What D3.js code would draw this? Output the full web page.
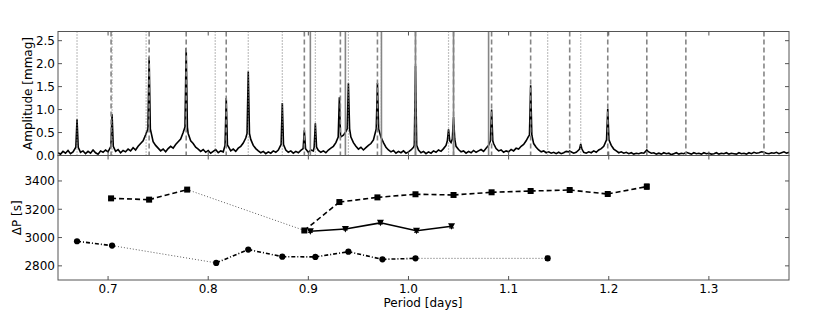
<!DOCTYPE html>
<html>
<head>
<meta charset="utf-8">
<script src="https://cdn.jsdelivr.net/npm/d3@7"></script>
<style>
  body { margin: 0; background: #fff; }
  text { font-family: "DejaVu Sans", sans-serif; font-size: 12px; fill: #000; }
</style>
</head>
<body>
<div class="canvas"></div>
<script>
// ---- data ----
// spectrum: noise floor sampled every 0.0025 d starting at 0.650 d (one row = 0.05 d)
const noiseStart = 0.650, noiseStep = 0.0025;
const noiseAmp = [
  0.06, 0.03, 0.09, 0.05, 0.11, 0.04, 0.08, 0.14, 0.16, 0.07, 0.10, 0.04, 0.09, 0.05, 0.12, 0.06, 0.03, 0.10, 0.07, 0.12,
  0.08, 0.15, 0.18, 0.09, 0.13, 0.06, 0.11, 0.08, 0.14, 0.10, 0.17, 0.12, 0.20, 0.26, 0.32, 0.45, 0.55, 0.48, 0.30, 0.22,
  0.16, 0.10, 0.14, 0.08, 0.15, 0.20, 0.16, 0.24, 0.30, 0.36, 0.50, 0.60, 0.48, 0.32, 0.26, 0.18, 0.14, 0.09, 0.13, 0.07,
  0.11, 0.05, 0.09, 0.13, 0.06, 0.10, 0.08, 0.18, 0.20, 0.10, 0.14, 0.09, 0.16, 0.20, 0.27, 0.38, 0.45, 0.35, 0.22, 0.15,
  0.10, 0.06, 0.09, 0.04, 0.08, 0.05, 0.10, 0.07, 0.12, 0.18, 0.22, 0.12, 0.07, 0.10, 0.05, 0.09, 0.06, 0.11, 0.14, 0.10,
  0.07, 0.12, 0.10, 0.16, 0.11, 0.07, 0.10, 0.06, 0.12, 0.16, 0.20, 0.28, 0.36, 0.40, 0.44, 0.52, 0.56, 0.40, 0.28, 0.20,
  0.14, 0.18, 0.12, 0.17, 0.22, 0.26, 0.34, 0.46, 0.55, 0.40, 0.28, 0.18, 0.12, 0.08, 0.11, 0.05, 0.09, 0.06, 0.10, 0.05,
  0.08, 0.12, 0.18, 0.20, 0.12, 0.06, 0.09, 0.04, 0.08, 0.05, 0.10, 0.07, 0.12, 0.09, 0.15, 0.22, 0.30, 0.28, 0.34, 0.20,
  0.13, 0.08, 0.10, 0.05, 0.09, 0.06, 0.11, 0.07, 0.10, 0.13, 0.09, 0.16, 0.22, 0.30, 0.26, 0.15, 0.10, 0.12, 0.07, 0.10,
  0.08, 0.13, 0.10, 0.16, 0.14, 0.20, 0.24, 0.32, 0.42, 0.38, 0.26, 0.18, 0.12, 0.08, 0.10, 0.06, 0.08, 0.05, 0.07, 0.04,
  0.07, 0.04, 0.06, 0.09, 0.07, 0.10, 0.05, 0.07, 0.12, 0.14, 0.07, 0.05, 0.08, 0.06, 0.10, 0.07, 0.12, 0.15, 0.20, 0.30,
  0.32, 0.22, 0.14, 0.10, 0.06, 0.08, 0.05, 0.07, 0.04, 0.06, 0.03, 0.05, 0.04, 0.06, 0.05, 0.09, 0.08, 0.05, 0.06, 0.03,
  0.05, 0.03, 0.06, 0.04, 0.05, 0.02, 0.04, 0.06, 0.03, 0.05, 0.04, 0.07, 0.05, 0.03, 0.06, 0.04, 0.05, 0.03, 0.06, 0.04,
  0.05, 0.03, 0.04, 0.06, 0.03, 0.05, 0.04, 0.06, 0.03, 0.05, 0.04, 0.03, 0.06, 0.04, 0.05, 0.03, 0.06, 0.04, 0.07, 0.05,
  0.06, 0.08, 0.07, 0.05, 0.04, 0.06, 0.05, 0.07, 0.04, 0.06, 0.08, 0.05, 0.07
];
// spectrum peaks
const peakPeriod   = [0.669, 0.704, 0.741, 0.778, 0.818, 0.840, 0.874, 0.896, 0.907, 0.931, 0.940,
                      0.969, 1.007, 1.040, 1.045, 1.083, 1.122, 1.161, 1.172, 1.199, 1.238];
const peakAmp      = [0.79, 0.90, 2.14, 2.34, 1.25, 1.83, 1.14, 0.55, 0.70, 1.27, 1.57,
                      1.58, 1.95, 0.57, 0.84, 1.00, 1.53, 0.10, 0.25, 1.02, 0.12];
const peakShoulder = [0.18, 0.20, 0.58, 0.62, 0.22, 0.48, 0.24, 0.15, 0.18, 0.40, 0.58,
                      0.58, 0.22, 0.32, 0.36, 0.32, 0.44, 0.08, 0.14, 0.34, 0.09];

// vertical period markers in the top panel
const dashedMarks = [0.703, 0.741, 0.778, 0.818, 0.896, 0.932, 0.969, 1.007, 1.045, 1.083,
                     1.122, 1.161, 1.199, 1.238, 1.277, 1.355];
const solidMarks  = [0.902, 0.937, 0.973, 1.007, 1.045, 1.080];
const dottedMarks = [0.669, 0.704, 0.738, 0.807, 0.840, 0.874, 0.907, 0.940, 0.973, 1.007,
                     1.040, 1.139, 1.172];

// period spacings (bottom panel)
const seqAPeriod = [0.703, 0.741, 0.779, 0.896, 0.931, 0.969, 1.007, 1.045, 1.083, 1.122, 1.161, 1.199, 1.238];
const seqAValue  = [3277, 3268, 3339, 3050, 3251, 3284, 3306, 3301, 3320, 3329, 3336, 3308, 3360];
const seqAErr    = [8, 8, 8, 6, 8, 8, 8, 8, 8, 8, 8, 10, 18];
const seqAGaps   = [2];            // segment after this index is a gap (dotted)

const seqBPeriod = [0.902, 0.937, 0.972, 1.008, 1.043];
const seqBValue  = [3045, 3060, 3104, 3048, 3080];
const seqBErr    = [8, 6, 8, 10, 12];
const seqBGaps   = [];

const seqCPeriod = [0.669, 0.704, 0.808, 0.840, 0.874, 0.907, 0.940, 0.974, 1.007, 1.139];
const seqCValue  = [2974, 2943, 2821, 2915, 2865, 2863, 2900, 2846, 2853, 2853];
const seqCErr    = [6, 6, 6, 6, 6, 6, 6, 6, 6, 15];
const seqCGaps   = [1, 8];

const xTicks = [0.7, 0.8, 0.9, 1.0, 1.1, 1.2, 1.3];
const ampTicks = [0.0, 0.5, 1.0, 1.5, 2.0, 2.5];
const dpTicks = [2800, 3000, 3200, 3400];

// ---- layout ----
const W = 830, H = 316;
const left = 58, right = 789;
const top1 = 31.5, bot1 = 155.5, bot2 = 280;
const tickLen = 4;
const frameColor = '#555';
const markColor = '#858585';

const svg = d3.select('.canvas').append('svg')
  .attr('width', W).attr('height', H)
  .style('background', '#fff');

const x = d3.scaleLinear().domain([0.65, 1.38]).range([left, right]);
const yAmp = d3.scaleLinear().domain([0, 2.7]).range([bot1, top1]);
const yDP = d3.scaleLinear().domain([2700, 3580]).range([bot2, bot1]);

svg.append('defs').append('clipPath').attr('id', 'clipTop')
  .append('rect').attr('x', left).attr('y', top1).attr('width', right - left).attr('height', bot1 - top1);

// ---- top panel ----
const topG = svg.append('g').attr('clip-path', 'url(#clipTop)');

// spectrum line: noise samples merged with the peaks
let pts = [];
noiseAmp.forEach((a, i) => {
  const p = noiseStart + i * noiseStep;
  if (!peakPeriod.some(pp => Math.abs(pp - p) < 0.0016)) pts.push([p, a]);
});
peakPeriod.forEach((p, i) => {
  pts.push([p - 0.0012, peakShoulder[i]]);
  pts.push([p, peakAmp[i]]);
  pts.push([p + 0.0012, peakShoulder[i]]);
});
pts.sort((a, b) => a[0] - b[0]);

topG.append('path')
  .datum(pts)
  .attr('fill', 'none')
  .attr('stroke', '#000')
  .attr('stroke-width', 1.6)
  .attr('stroke-linejoin', 'miter')
  .attr('d', d3.line().x(d => x(d[0])).y(d => yAmp(d[1])));

const drawMarks = (list, dash, width) => {
  topG.selectAll(null).data(list).enter().append('line')
    .attr('x1', d => x(d)).attr('x2', d => x(d))
    .attr('y1', top1).attr('y2', bot1)
    .attr('stroke', markColor)
    .attr('stroke-width', width)
    .attr('stroke-dasharray', dash);
};
drawMarks(solidMarks, null, 1.6);
drawMarks(dashedMarks, '5,3', 1.6);
drawMarks(dottedMarks, '1,2', 1.2);

// ---- bottom panel ----
const botG = svg.append('g');

const drawSeries = (per, val, err, gaps, dash, marker) => {
  for (let i = 0; i < per.length - 1; i++) {
    const gap = gaps.includes(i);
    botG.append('line')
      .attr('x1', x(per[i])).attr('y1', yDP(val[i]))
      .attr('x2', x(per[i + 1])).attr('y2', yDP(val[i + 1]))
      .attr('stroke', gap ? '#333' : '#000')
      .attr('stroke-width', gap ? 0.8 : 1.6)
      .attr('stroke-dasharray', gap ? '1,2' : dash);
  }
  // error bars
  per.forEach((p, i) => {
    const cx = x(p), y0 = yDP(val[i] - err[i]), y1 = yDP(val[i] + err[i]);
    botG.append('line').attr('x1', cx).attr('x2', cx).attr('y1', y0).attr('y2', y1)
      .attr('stroke', '#000').attr('stroke-width', 1);
    [y0, y1].forEach(yy => botG.append('line')
      .attr('x1', cx - 2.5).attr('x2', cx + 2.5).attr('y1', yy).attr('y2', yy)
      .attr('stroke', '#000').attr('stroke-width', 1));
  });
  botG.selectAll(null).data(per).enter().append('path')
    .attr('transform', (d, i) => `translate(${x(d)},${yDP(val[i])})`)
    .attr('d', marker)
    .attr('fill', '#000');
};

const square = d3.symbol().type(d3.symbolSquare).size(36)();
const circle = d3.symbol().type(d3.symbolCircle).size(30)();
const triDown = 'M-3.5,-3L3.5,-3L0,3.5Z';

drawSeries(seqAPeriod, seqAValue, seqAErr, seqAGaps, '5,3', square);
drawSeries(seqBPeriod, seqBValue, seqBErr, seqBGaps, null, triDown);
drawSeries(seqCPeriod, seqCValue, seqCErr, seqCGaps, '4,2,1,2', circle);

// ---- frames and ticks ----
const frame = svg.append('g').attr('stroke', frameColor).attr('stroke-width', 1).attr('fill', 'none');
frame.append('rect').attr('x', left).attr('y', top1).attr('width', right - left).attr('height', bot1 - top1);
frame.append('rect').attr('x', left).attr('y', bot1).attr('width', right - left).attr('height', bot2 - bot1);

const tickG = svg.append('g').attr('stroke', frameColor).attr('stroke-width', 1);
xTicks.forEach(t => {
  const xx = x(t);
  [[top1, 1], [bot1, -1], [bot1, 1], [bot2, -1]].forEach(([yy, s]) => {
    tickG.append('line').attr('x1', xx).attr('x2', xx).attr('y1', yy).attr('y2', yy + s * tickLen);
  });
});
ampTicks.forEach(t => {
  const yy = yAmp(t);
  tickG.append('line').attr('x1', left).attr('x2', left + tickLen).attr('y1', yy).attr('y2', yy);
  tickG.append('line').attr('x1', right).attr('x2', right - tickLen).attr('y1', yy).attr('y2', yy);
});
dpTicks.forEach(t => {
  const yy = yDP(t);
  tickG.append('line').attr('x1', left).attr('x2', left + tickLen).attr('y1', yy).attr('y2', yy);
  tickG.append('line').attr('x1', right).attr('x2', right - tickLen).attr('y1', yy).attr('y2', yy);
});

// ---- labels ----
svg.selectAll(null).data(ampTicks).enter().append('text')
  .attr('x', left - 3).attr('y', d => yAmp(d)).attr('dy', '0.36em')
  .attr('text-anchor', 'end')
  .text(d => d.toFixed(1));

svg.selectAll(null).data(dpTicks).enter().append('text')
  .attr('x', left - 3).attr('y', d => yDP(d)).attr('dy', '0.36em')
  .attr('text-anchor', 'end')
  .text(d => d);

svg.selectAll(null).data(xTicks).enter().append('text')
  .attr('x', d => x(d)).attr('y', bot2 + 13)
  .attr('text-anchor', 'middle')
  .text(d => d.toFixed(1));

svg.append('text')
  .attr('x', 423).attr('y', bot2 + 27)
  .attr('text-anchor', 'middle')
  .text('Period [days]');

svg.append('text')
  .attr('transform', `translate(32,${(top1 + bot1) / 2}) rotate(-90)`)
  .attr('text-anchor', 'middle')
  .text('Amplitude [mmag]');

svg.append('text')
  .attr('transform', `translate(21,${(bot1 + bot2) / 2}) rotate(-90)`)
  .attr('text-anchor', 'middle')
  .text('ΔP [s]');
</script>
</body>
</html>
